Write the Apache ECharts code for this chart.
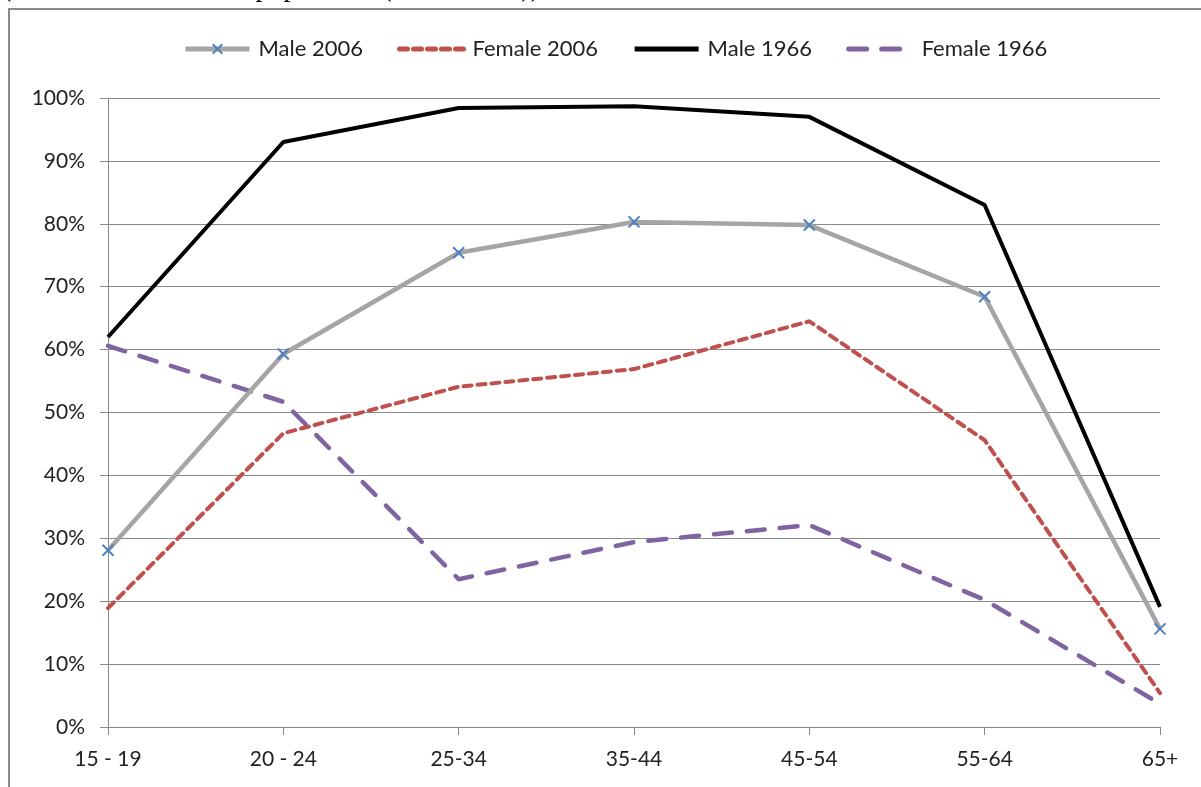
<!DOCTYPE html>
<html>
<head>
<meta charset="utf-8">
<script src="https://cdn.jsdelivr.net/npm/echarts@6/dist/echarts.min.js"></script>
<style>
html,body{margin:0;padding:0;background:#fff;}
#c{width:1201px;height:787px;}
</style>
</head>
<body>
<div id="c"></div>
<script>
var categories = ['15 - 19', '20 - 24', '25-34', '35-44', '45-54', '55-64', '65+'];
var male2006 = [28.1, 59.3, 75.4, 80.3, 79.8, 68.4, 15.6];
var female2006 = [18.9, 46.7, 54.1, 56.9, 64.5, 45.6, 5.4];
var male1966 = [62.0, 93.0, 98.4, 98.7, 97.0, 83.0, 19.1];
var female1966 = [60.6, 51.7, 23.5, 29.4, 32.1, 20.2, 3.7];
var seriesNames = ['Male 2006', 'Female 2006', 'Male 1966', 'Female 1966'];

var chart = echarts.init(document.getElementById('c'));
var font = 'Lato, "Open Sans", sans-serif';
var xPath = 'path://M0,0L10,10M10,0L0,10';
chart.setOption({
  animation: false,
  backgroundColor: '#fff',
  graphic: [
    {type: 'rect', shape: {x: 9, y: 9, width: 1300, height: 900},
     style: {fill: 'none', stroke: '#8a8a8a', lineWidth: 2}, z: -1},
    {type: 'text', left: 2, top: -25,
     style: {text: '(as a share of the total population (each cohort))', font: '28px "Liberation Serif", "DejaVu Serif", serif', fill: '#000'}}
  ],
  legend: {
    top: 33,
    left: 178,
    itemWidth: 64,
    itemHeight: 12,
    itemGap: 34,
    lineStyle: {width: 5},
    textStyle: {fontFamily: font, fontSize: 22, color: '#222', padding: [0, 0, 0, 4]},
    data: [
      {name: seriesNames[0]},
      {name: seriesNames[1], itemStyle: {opacity: 0}},
      {name: seriesNames[2], itemStyle: {opacity: 0}},
      {name: seriesNames[3], itemStyle: {opacity: 0}}
    ]
  },
  grid: {left: 108, right: 41, top: 98, bottom: 60, containLabel: false},
  xAxis: {
    type: 'category',
    data: categories,
    boundaryGap: false,
    axisLine: {lineStyle: {color: '#8a8a8a', width: 1}},
    axisTick: {show: true, length: 8, alignWithLabel: true, lineStyle: {color: '#8a8a8a'}},
    axisLabel: {fontFamily: font, fontSize: 21, color: '#222', margin: 22}
  },
  yAxis: {
    type: 'value',
    min: 0, max: 100, interval: 10,
    axisLine: {show: true, lineStyle: {color: '#8a8a8a', width: 1}},
    axisTick: {show: true, length: 8, lineStyle: {color: '#8a8a8a'}},
    axisLabel: {fontFamily: font, fontSize: 21, color: '#222', margin: 23, formatter: '{value}%'},
    splitLine: {show: true, lineStyle: {color: '#8a8a8a', width: 1}}
  },
  series: [
    {name: seriesNames[0], type: 'line', data: male2006, symbol: xPath, symbolSize: 11,
     itemStyle: {color: '#4F81BD', borderColor: '#4F81BD', borderWidth: 2},
     lineStyle: {color: '#A5A5A5', width: 4.5}, z: 3},
    {name: seriesNames[1], type: 'line', data: female2006, symbol: 'none',
     itemStyle: {color: '#C0504D'},
     lineStyle: {color: '#C0504D', width: 4, type: [8, 6], cap: 'round'}, z: 2},
    {name: seriesNames[2], type: 'line', data: male1966, symbol: 'none',
     itemStyle: {color: '#000'},
     lineStyle: {color: '#000', width: 4}, z: 4},
    {name: seriesNames[3], type: 'line', data: female1966, symbol: 'none',
     itemStyle: {color: '#8064A2'},
     lineStyle: {color: '#8064A2', width: 4.5, type: [18, 15], cap: 'round'}, z: 1}
  ]
});
</script>
</body>
</html>
